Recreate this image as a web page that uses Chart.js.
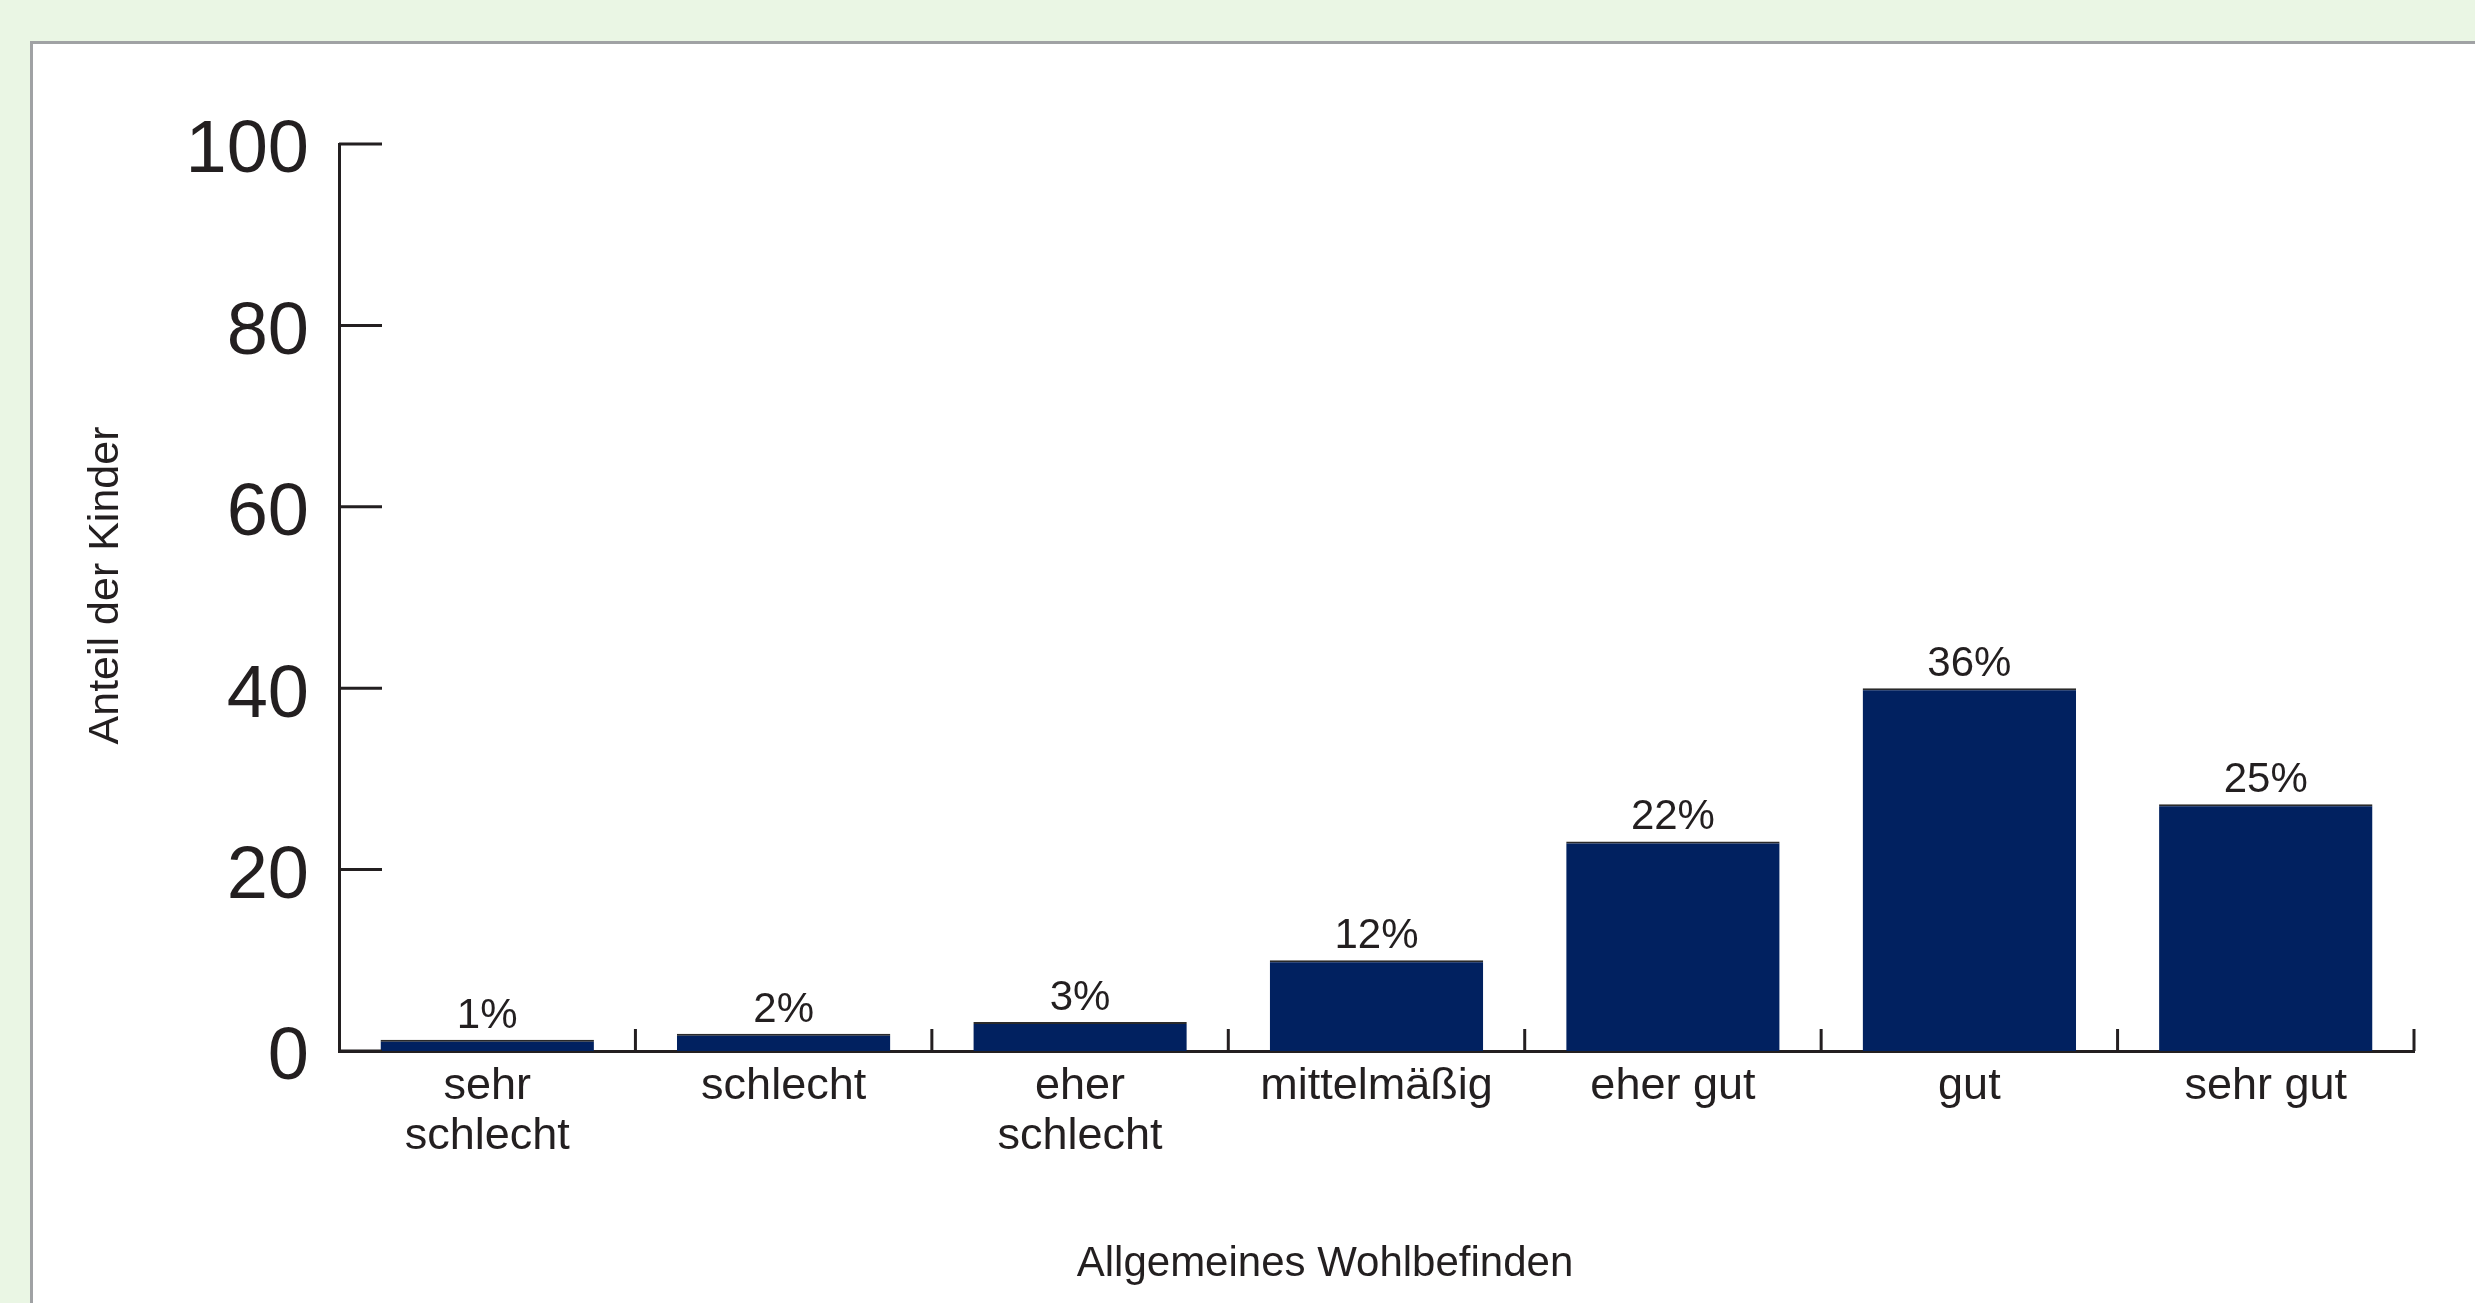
<!DOCTYPE html>
<html>
<head>
<meta charset="utf-8">
<script src="https://cdn.jsdelivr.net/npm/chart.js@4.4.1/dist/chart.umd.min.js"></script>
<style>
  html, body { margin: 0; padding: 0; background: #eaf6e4; width: 2475px; height: 1303px; overflow: hidden; }
  #panel { position: absolute; left: 30px; top: 41px; width: 2500px; height: 1300px; background: #fff; border: 3px solid #a0a2a4; }
  #wrap { position: absolute; left: 0; top: 0; width: 2475px; height: 1303px; }
</style>
</head>
<body>
<div id="panel"></div>
<div id="wrap"><canvas id="chart"></canvas></div>
<script>
// Daten
const categories = [['sehr', 'schlecht'], 'schlecht', ['eher', 'schlecht'], 'mittelmäßig', 'eher gut', 'gut', 'sehr gut'];
const barHeights = [1.25, 1.9, 3.2, 10, 23.1, 40, 27.2];
const valueLabels = ['1%', '2%', '3%', '12%', '22%', '36%', '25%'];
const yTicks = [0, 20, 40, 60, 80, 100];
const xTitle = 'Allgemeines Wohlbefinden';
const yTitle = 'Anteil der Kinder';

const ink = '#231f20';
const fontFamily = "'Liberation Sans', Arial, sans-serif";

// Tickmarks nach innen, Balkenbeschriftung, Achsentitel
Chart.register({
  id: 'decorations',
  afterDraw(chart) {
    const {ctx, chartArea: area, scales: {x, y}} = chart;
    ctx.save();
    ctx.strokeStyle = ink;
    ctx.lineWidth = 3;

    // y-Ticks nach rechts
    yTicks.forEach(v => {
      const py = y.getPixelForValue(v);
      ctx.beginPath();
      ctx.moveTo(area.left, py);
      ctx.lineTo(area.left + 43, py);
      ctx.stroke();
    });

    // x-Ticks nach oben zwischen den Kategorien
    for (let i = 0; i < categories.length; i++) {
      const px = i < categories.length - 1
        ? (x.getPixelForValue(i) + x.getPixelForValue(i + 1)) / 2
        : area.right;
      ctx.beginPath();
      ctx.moveTo(px, area.bottom);
      ctx.lineTo(px, area.bottom - 22);
      ctx.stroke();
    }

    // Prozentwerte über den Balken
    ctx.fillStyle = ink;
    ctx.font = '42px ' + fontFamily;
    ctx.textAlign = 'center';
    ctx.textBaseline = 'alphabetic';
    chart.getDatasetMeta(0).data.forEach((bar, i) => {
      ctx.fillText(valueLabels[i], bar.x, bar.y - 12);
    });

    // Achsentitel
    ctx.font = '42px ' + fontFamily;
    ctx.textBaseline = 'middle';
    ctx.fillText(xTitle, 1325, 1264);

    ctx.translate(106, (area.top + area.bottom) / 2 - 12);
    ctx.rotate(-Math.PI / 2);
    ctx.font = '43px ' + fontFamily;
    ctx.fillText(yTitle, 0, 0);
    ctx.restore();
  }
});

new Chart(document.getElementById('chart'), {
  type: 'bar',
  data: {
    labels: categories,
    datasets: [{
      data: barHeights,
      backgroundColor: '#012160',
      borderColor: '#2a2a2a',
      borderWidth: {top: 2, left: 0, right: 0, bottom: 0},
      borderSkipped: false,
      categoryPercentage: 1,
      barPercentage: 0.72
    }]
  },
  options: {
    responsive: true,
    maintainAspectRatio: false,
    animation: false,
    layout: { padding: { top: 144, right: 61, bottom: 0, left: 0 } },
    plugins: { legend: { display: false }, tooltip: { enabled: false } },
    scales: {
      x: {
        grid: { display: false, drawTicks: false },
        border: { display: true, color: ink, width: 3 },
        ticks: {
          color: ink,
          padding: 11,
          maxRotation: 0,
          autoSkip: false,
          font: { family: fontFamily, size: 45, lineHeight: 1.1 }
        },
        afterFit(scale) { scale.height = 252; }
      },
      y: {
        min: 0,
        max: 100,
        grid: { display: false, drawTicks: false },
        border: { display: true, color: ink, width: 3 },
        ticks: {
          stepSize: 20,
          color: ink,
          padding: 30,
          labelOffset: 8,
          font: { family: fontFamily, size: 74 }
        },
        afterFit(scale) { scale.width = 339; }
      }
    }
  }
});
</script>
</body>
</html>
